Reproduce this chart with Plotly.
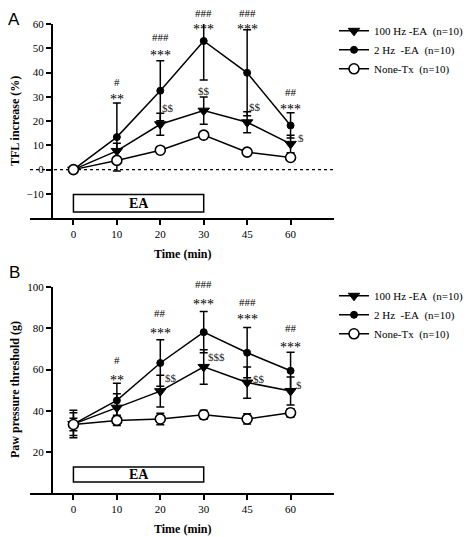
import plotly.graph_objects as go

# ---------------- data ----------------
times = ["0", "10", "20", "30", "45", "60"]
series_names = ["100 Hz -EA\u00a0 (n=10)", "2 Hz\u00a0 -EA\u00a0 (n=10)", "None-Tx\u00a0 (n=10)"]

# Panel A: TFL increase (%)
tfl_100hz = [0, 7.7, 18.7, 24.3, 19.5, 10.6]
tfl_100hz_sd = [0, 3.2, 4.5, 5.6, 4.3, 3.6]
tfl_2hz = [0, 13.4, 32.5, 53.0, 39.9, 18.2]
tfl_2hz_sd = [0, 14.0, 12.4, 16.1, 17.7, 5.2]
tfl_none = [0, 3.8, 8.0, 14.2, 7.2, 5.0]
tfl_none_sd = [0, 1.0, 1.0, 1.0, 1.0, 1.0]

# Panel B: Paw pressure threshold (g)
paw_100hz = [33.5, 41.5, 49.5, 61.3, 53.7, 49.6]
paw_100hz_sd = [5.5, 6.8, 7.7, 8.4, 7.6, 6.8]
paw_2hz = [33.5, 45.0, 63.2, 78.2, 68.2, 59.4]
paw_2hz_sd = [6.7, 8.4, 11.3, 10.0, 12.2, 9.0]
paw_none = [33.3, 35.3, 36.0, 38.0, 36.0, 39.0]
paw_none_sd = [3.0, 2.5, 2.8, 2.2, 2.5, 2.0]

# significance labels
sig_star_A = ["", "**", "***", "***", "***", "***"]
sig_hash_A = ["", "#", "###", "###", "###", "##"]
sig_dollar_A = ["", "", "$$", "$$", "$$", "$"]
sig_star_B = ["", "**", "***", "***", "***", "***"]
sig_hash_B = ["", "#", "##", "###", "###", "##"]
sig_dollar_B = ["", "", "$$", "$$$", "$$", "$"]

SERIF = "Liberation Serif, Times New Roman, serif"
SANS = "Liberation Sans, Arial, sans-serif"

RANGE_A = [-20, 60]
RANGE_B = [0, 100]

fig = go.Figure()

marker_styles = [
    dict(symbol="triangle-down", size=10, color="black", line=dict(color="black", width=1)),
    dict(symbol="circle", size=7, color="black", line=dict(color="black", width=1)),
    dict(symbol="circle", size=10, color="white", line=dict(color="black", width=1.6)),
]


def add_panel(vals, sds, xa, ya, legend):
    for name, y, sd, ms in zip(series_names, vals, sds, marker_styles):
        fig.add_trace(go.Scatter(
            x=times, y=y, name=name, mode="lines+markers",
            line=dict(color="black", width=1.5),
            marker=ms,
            error_y=dict(type="data", array=sd, visible=True, color="black", thickness=1.5, width=4),
            xaxis=xa, yaxis=ya, legend=legend, cliponaxis=True,
        ))


add_panel([tfl_100hz, tfl_2hz, tfl_none], [tfl_100hz_sd, tfl_2hz_sd, tfl_none_sd], "x", "y", "legend3")
add_panel([paw_100hz, paw_2hz, paw_none], [paw_100hz_sd, paw_2hz_sd, paw_none_sd], "x2", "y2", "legend2")

axis_common = dict(showline=True, linecolor="black", linewidth=1.5, ticks="outside", ticklen=5,
                   tickwidth=1.5, tickcolor="black", showgrid=False, zeroline=False,
                   tickfont=dict(family=SERIF, size=11, color="black"))

legend_font = dict(family=SERIF, size=11, color="black")

# the page body adds an 8px offset, so the figure is 8px smaller than the window
fig.update_layout(
    width=463, height=529,
    margin=dict(l=22, r=137, t=16, b=44, autoexpand=False),
    paper_bgcolor="white", plot_bgcolor="white",
    showlegend=True,
    xaxis=dict(domain=[0, 1], anchor="y", type="category", categoryarray=times, range=[-1, 6], **axis_common),
    yaxis=dict(domain=[0.586, 1], anchor="free", position=0.0714, range=RANGE_A,
               tickvals=[-10, 0, 10, 20, 30, 40, 50, 60], **axis_common),
    xaxis2=dict(domain=[0, 1], anchor="y2", type="category", categoryarray=times, range=[-1, 6], **axis_common),
    yaxis2=dict(domain=[0, 0.4386], anchor="free", position=0.0714, range=RANGE_B,
                tickvals=[20, 40, 60, 80, 100], **axis_common),
    legend3=dict(x=1.0, y=0.9843, xref="paper", yref="container", xanchor="left", yanchor="top",
                 bgcolor="rgba(0,0,0,0)", font=legend_font, itemwidth=30),
    legend2=dict(x=1.0, y=0.4834, xref="paper", yref="container", xanchor="left", yanchor="top",
                 bgcolor="rgba(0,0,0,0)", font=legend_font, itemwidth=30),
)

shapes = [
    dict(type="line", xref="x", yref="y", x0=-1, x1=6, y0=0, y1=0,
         line=dict(color="black", width=1.2, dash="dot"), layer="below"),
    dict(type="rect", xref="x", yref="y", x0=0, x1=3, y0=-17.5, y1=-10.2,
         line=dict(color="black", width=1.5), fillcolor="white"),
    dict(type="rect", xref="x2", yref="y2", x0=0, x1=3, y0=5.3, y1=12.7,
         line=dict(color="black", width=1.5), fillcolor="white"),
]
fig.update_layout(shapes=shapes)

ann = []


def add_text(**kw):
    kw.setdefault("showarrow", False)
    kw.setdefault("xanchor", "center")
    kw.setdefault("yanchor", "middle")
    ann.append(kw)


# box labels
add_text(xref="x", yref="y", x=1.5, y=-13.85, text="<b>EA</b>", font=dict(family=SERIF, size=14, color="black"))
add_text(xref="x2", yref="y2", x=1.5, y=9.0, text="<b>EA</b>", font=dict(family=SERIF, size=14, color="black"))
# axis titles
add_text(xref="paper", yref="paper", x=-0.0493, y=0.793, text="<b>TFL increase (%)</b>",
         textangle=-90, font=dict(family=SERIF, size=12, color="black"))
add_text(xref="paper", yref="paper", x=-0.0493, y=0.2196, text="<b>Paw pressure threshold (g)</b>",
         textangle=-90, font=dict(family=SERIF, size=12, color="black"))
add_text(xref="paper", yref="paper", x=0.5, y=0.5096, text="<b>Time (min)</b>",
         font=dict(family=SERIF, size=12, color="black"))
add_text(xref="paper", yref="paper", x=0.5, y=-0.0774, text="<b>Time (min)</b>",
         font=dict(family=SERIF, size=12, color="black"))
# panel letters
add_text(xref="paper", yref="paper", x=-0.0526, y=1.034, yanchor="top", text="A",
         font=dict(family=SANS, size=17, color="black"))
add_text(xref="paper", yref="paper", x=-0.0526, y=0.4712, text="B", font=dict(family=SANS, size=17, color="black"))

# significance label positions (data values, converted to axis-domain fractions)
hash_y_A = [None, 36.2, 54.5, 64.5, 64.5, 32.1]
star_y_A = [None, 30.7, 48.6, 59.4, 59.4, 26.6]
dollar_pos_A = [None, None, (2.18, 25.2), (3.0, 32.5), (4.19, 25.9), (5.23, 13.1)]
hash_y_B = [None, 64.8, 87.4, 101.5, 93.0, 80.1]
star_y_B = [None, 56.7, 79.6, 93.8, 86.1, 72.8]
dollar_pos_B = [None, None, (2.25, 55.9), (3.3, 66.1), (4.27, 55.4), (5.2, 52.6)]


def frac(v, rng):
    return (v - rng[0]) / (rng[1] - rng[0])


def add_sig(xa, ya, rng, hashes, stars, dollars, hy, sy, dp):
    yd = ya + " domain"
    for i in range(len(times)):
        if hashes[i]:
            add_text(xref=xa, yref=yd, x=i, y=frac(hy[i], rng), text=hashes[i],
                     font=dict(family=SERIF, size=11, color="black"))
        if stars[i]:
            add_text(xref=xa, yref=yd, x=i, y=frac(sy[i], rng), yshift=-4, text=stars[i],
                     font=dict(family=SERIF, size=14, color="black"))
        if dollars[i]:
            add_text(xref=xa, yref=yd, x=dp[i][0], y=frac(dp[i][1], rng), text=dollars[i],
                     font=dict(family=SERIF, size=11, color="#222222"))


add_sig("x", "y", RANGE_A, sig_hash_A, sig_star_A, sig_dollar_A, hash_y_A, star_y_A, dollar_pos_A)
add_sig("x2", "y2", RANGE_B, sig_hash_B, sig_star_B, sig_dollar_B, hash_y_B, star_y_B, dollar_pos_B)

fig.update_layout(annotations=ann)

fig.write_html("out.html")
